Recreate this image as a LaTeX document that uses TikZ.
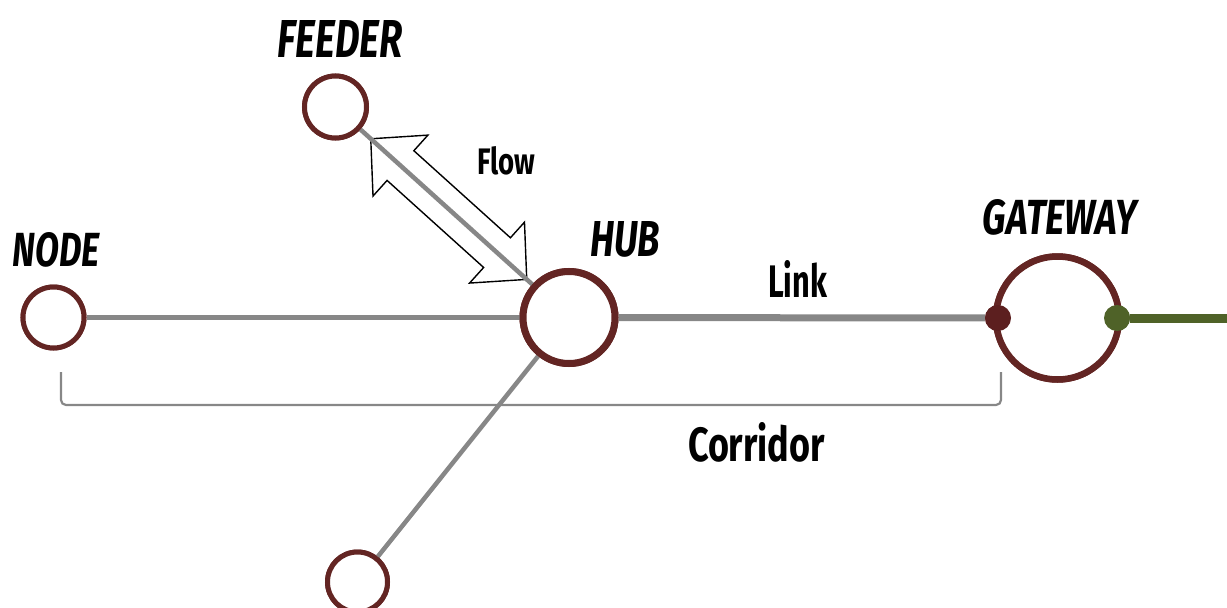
\documentclass[tikz,border=0pt]{standalone}
\usepackage{fontspec}
\setmainfont{Fira Sans}
\usetikzlibrary{calc}

\definecolor{stnred}{HTML}{632523}
\definecolor{dotred}{HTML}{5C1F1F}
\definecolor{olive}{HTML}{4F6228}
\definecolor{railgray}{HTML}{878787}

% label sized to a given width and height
\newcommand{\lbl}[3]{\resizebox{#1pt}{#2pt}{\bfseries #3}}
\newcommand{\ilbl}[3]{\resizebox{#1pt}{#2pt}{\bfseries\itshape #3}}

\tikzset{
  station/.style={circle, draw=stnred, fill=white, inner sep=0pt, line width=5pt, minimum size=61pt},
  bigstation/.style={station, line width=7pt},
  rail/.style={draw=railgray, line width=4.5pt},
  mainrail/.style={draw=railgray, line width=7pt},
  portdot/.style={circle, inner sep=0pt, minimum size=26pt},
  txt/.style={inner sep=0pt, text=black},
  flowarrow/.style={draw=black, fill=white, line width=1.4pt, line join=miter},
  brace/.style={draw=railgray, line width=2.2pt, rounded corners=5pt}
}

\begin{document}
\begin{tikzpicture}[x=1pt, y=-1pt]
\useasboundingbox (0,0) rectangle (1227,608);

% stations
\node[station] (nodeS) at (53.5,317.5) {};
\node[station, minimum size=62pt] (feeder) at (335.5,107) {};
\node[bigstation, minimum size=92pt] (hub) at (569,317.5) {};
\node[station, minimum size=60pt] (south) at (357.5,582) {};
\node[station, line width=6.5pt, minimum size=123pt] (gateway) at (1057.5,318) {};

% ports on the gateway
\node[portdot, fill=dotred] (portin) at (998,318) {};
\node[portdot, fill=olive] (portout) at (1117,318) {};
\coordinate (exit) at (1230,318);

% double flow arrow along the feeder branch
\coordinate (tipA) at ($(feeder.center)!0.151!(hub.center)$);
\coordinate (tipB) at ($(feeder.center)!0.819!(hub.center)$);
\coordinate (hA) at ($(tipA)!40pt!(tipB)$);
\coordinate (hB) at ($(tipB)!40pt!(tipA)$);
\draw[flowarrow]
  (tipA)
  -- ($(hA)!41pt!90:(tipB)$)
  -- ($(hA)!20pt!90:(tipB)$)
  -- ($(hB)!20pt!-90:(tipA)$)
  -- ($(hB)!41pt!-90:(tipA)$)
  -- (tipB)
  -- ($(hB)!41pt!90:(tipA)$)
  -- ($(hB)!20pt!90:(tipA)$)
  -- ($(hA)!20pt!-90:(tipB)$)
  -- ($(hA)!41pt!-90:(tipB)$)
  -- cycle;

% connectors
\draw[rail] (nodeS) -- (hub);
\draw[rail] (feeder) -- (hub);
\draw[rail] (hub) -- (south);
\draw[mainrail] (hub) -- (portin);
\draw[draw=olive, line width=9pt] (portout) -- (exit);

% redraw stations over connector ends
\node[station] at (nodeS) {};
\node[station, minimum size=62pt] at (feeder) {};
\node[bigstation, minimum size=92pt] at (hub) {};
\node[station, minimum size=60pt] at (south) {};
\node[station, line width=6.5pt, minimum size=123pt] at (gateway) {};
\node[portdot, fill=dotred] at (portin) {};
\node[portdot, fill=olive] at (portout) {};

% corridor bracket
\coordinate (brL) at (61,372);
\coordinate (brR) at (1001,372);
\draw[brace] (brL) |- ($(brR)+(0,33)$) -- (brR);

% labels
\node[txt] (lfeeder) at (340,38.5) {\ilbl{125}{37}{FEEDER}};
\node[txt] (lnode) at (56.5,250) {\ilbl{87}{34}{NODE}};
\node[txt] (lhub) at (625,239.5) {\ilbl{70}{35}{HUB}};
\node[txt] (lgate) at (1060,217.5) {\ilbl{154}{35}{GATEWAY}};
\node[txt] (lflow) at (506,161) {\lbl{58}{28}{Flow}};
\node[txt] (llink) at (797.5,278.5) {\lbl{59}{37}{Link}};
\node[txt] (lcorr) at (756.5,442.5) {\lbl{137}{39}{Corridor}};
\end{tikzpicture}
\end{document}
